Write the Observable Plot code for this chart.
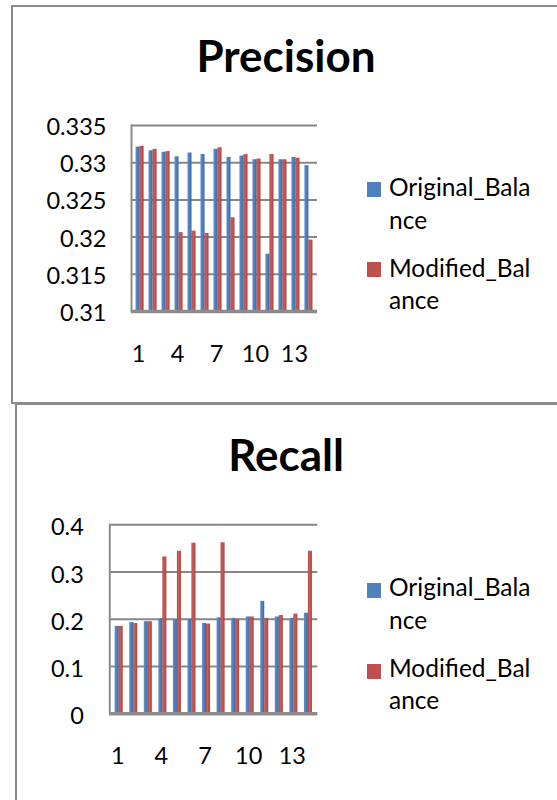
<!DOCTYPE html>
<html>
<head>
<meta charset="utf-8">
<script src="https://cdn.jsdelivr.net/npm/d3@7"></script>
<script src="https://cdn.jsdelivr.net/npm/@observablehq/plot@0.6"></script>
<style>
  body { margin: 0; background: #fff; }
  #root { position: relative; width: 557px; height: 800px; overflow: hidden; font-family: Lato, "Open Sans", sans-serif; color: #000; }
  .box { position: absolute; border: 2px solid #8a8a8a; box-sizing: border-box; }
  .title { position: absolute; width: 300px; text-align: center; font-weight: bold; font-size: 44px; line-height: 44px; white-space: nowrap; }
  .leg { position: absolute; font-size: 24.5px; line-height: 24.5px; white-space: nowrap; }
  .sw { position: absolute; width: 14px; height: 15px; }
  .plot { position: absolute; left: 0; }
</style>
</head>
<body>
<div id="root"></div>
<script>
// ---- data ----
const categories = [1, 2, 3, 4, 5, 6, 7, 8, 9, 10, 11, 12, 13, 14];
const xTickLabels = [1, 4, 7, 10, 13];
const seriesNames = ["Original_Balance", "Modified_Balance"];
const seriesLegendLines = [["Original_Bala", "nce"], ["Modified_Bal", "ance"]];
const seriesColors = ["#4f81bd", "#c0504d"];

const precisionOriginal = [0.3321, 0.3316, 0.3314, 0.3308, 0.3313, 0.3311, 0.3318, 0.3307, 0.3309, 0.3304, 0.3177, 0.3304, 0.3307, 0.3296];
const precisionModified = [0.3322, 0.3318, 0.3315, 0.3206, 0.3208, 0.3205, 0.3320, 0.3226, 0.3311, 0.3305, 0.3311, 0.3304, 0.3306, 0.3196];
const precisionTicks = [0.31, 0.315, 0.32, 0.325, 0.33, 0.335];

const recallOriginal = [0.185, 0.193, 0.195, 0.201, 0.198, 0.200, 0.191, 0.203, 0.202, 0.205, 0.238, 0.205, 0.202, 0.213];
const recallModified = [0.185, 0.191, 0.195, 0.332, 0.344, 0.361, 0.190, 0.362, 0.200, 0.205, 0.202, 0.208, 0.211, 0.344];
const recallTicks = [0, 0.1, 0.2, 0.3, 0.4];

const root = document.getElementById("root");

function el(tag, cls, style, text) {
  const e = document.createElement(tag);
  if (cls) e.className = cls;
  Object.assign(e.style, style);
  if (text != null) e.textContent = text;
  root.appendChild(e);
  return e;
}

// frames
el("div", "box", {left: "11px", top: "5px", width: "620px", height: "399px"});
el("div", "box", {left: "15px", top: "403px", width: "620px", height: "500px"});

function chart(cfg) {
  const data = categories.map((c, i) => ({cat: c, orig: cfg.orig[i], mod: cfg.mod[i]}));
  const W = 557, H = 400;
  const range = W - cfg.ml - cfg.mr;
  const step = range / (categories.length - cfg.pi + 2 * cfg.po);
  const bw = step * (1 - cfg.pi);
  const base = cfg.ticks[0];
  const gb = "gB" + cfg.id, gr = "gR" + cfg.id;
  const svg = Plot.plot({
    width: W, height: H,
    marginLeft: cfg.ml, marginRight: cfg.mr, marginTop: cfg.mt, marginBottom: cfg.mb,
    style: {fontFamily: "Lato, 'Open Sans', sans-serif", fontSize: "23.5px", color: "#000", background: "transparent", overflow: "visible"},
    x: {type: "band", domain: categories, paddingInner: cfg.pi, paddingOuter: cfg.po, round: false, label: null},
    y: {domain: [cfg.ticks[0], cfg.ticks[cfg.ticks.length - 1]], label: null},
    marks: [
      Plot.ruleY(cfg.ticks.slice(1), {stroke: "#878787", strokeWidth: 2}),
      Plot.frame({anchor: "left", stroke: "#8c8c8c", strokeWidth: 2}),
      Plot.barY(data, {x: "cat", y1: base, y2: "orig", fill: `url(#${gb})`, insetRight: bw / 2}),
      Plot.barY(data, {x: "cat", y1: base, y2: "mod", fill: `url(#${gr})`, insetLeft: bw / 2}),
      Plot.ruleY([base], {stroke: "#8c8c8c", strokeWidth: 3.5}),
      Plot.axisY({ticks: cfg.ticks, tickSize: 0, tickPadding: cfg.yPad, dy: cfg.yDy, label: null,
        tickFormat: d => String(+d.toFixed(3)), fill: "#000"}),
      Plot.axisX({ticks: xTickLabels, tickSize: 0, tickPadding: 34, dx: -1.5, label: null, fill: "#000"})
    ]
  });
  const ns = "http://www.w3.org/2000/svg";
  const defs = document.createElementNS(ns, "defs");
  defs.innerHTML = `
    <linearGradient id="${gb}" x1="0" x2="1" y1="0" y2="0">
      <stop offset="0" stop-color="#5d8fcc"/><stop offset="0.45" stop-color="#4f81bd"/><stop offset="1" stop-color="#3c6aa4"/>
    </linearGradient>
    <linearGradient id="${gr}" x1="0" x2="1" y1="0" y2="0">
      <stop offset="0" stop-color="#b04441"/><stop offset="0.4" stop-color="#cf5d5a"/><stop offset="1" stop-color="#a83f3c"/>
    </linearGradient>`;
  svg.insertBefore(defs, svg.firstChild);
  svg.classList.add("plot");
  svg.style.top = cfg.top + "px";
  root.appendChild(svg);

  // title
  el("div", "title", {left: (286 - 150) + "px", top: (cfg.titleBase - 39) + "px"}, cfg.title);
  // legend
  cfg.legend.forEach((lg, k) => {
    el("div", "sw", {left: "367px", top: lg.sw + "px", background: seriesColors[k]});
    seriesLegendLines[k].forEach((line, j) => {
      el("div", "leg", {left: "389px", top: (lg.base[j] - 21.7) + "px"}, line);
    });
  });
}

chart({
  id: "p", title: "Precision", top: 0, orig: precisionOriginal, mod: precisionModified, ticks: precisionTicks,
  ml: 131, mr: 240, mt: 125, mb: 89, pi: 0.38, po: 0.35, yPad: 25, yDy: 2,
  titleBase: 71.7,
  legend: [{sw: 182, base: [196.7, 230]}, {sw: 262, base: [277.3, 310]}]
});
chart({
  id: "r", title: "Recall", top: 400, orig: recallOriginal, mod: recallModified, ticks: recallTicks,
  ml: 109.3, mr: 239.7, mt: 124.3, mb: 86.7, pi: 0.45, po: 0.37, yPad: 26, yDy: 3,
  titleBase: 470.7,
  legend: [{sw: 583.3, base: [596.7, 630]}, {sw: 664, base: [677.3, 710]}]
});
</script>
</body>
</html>
